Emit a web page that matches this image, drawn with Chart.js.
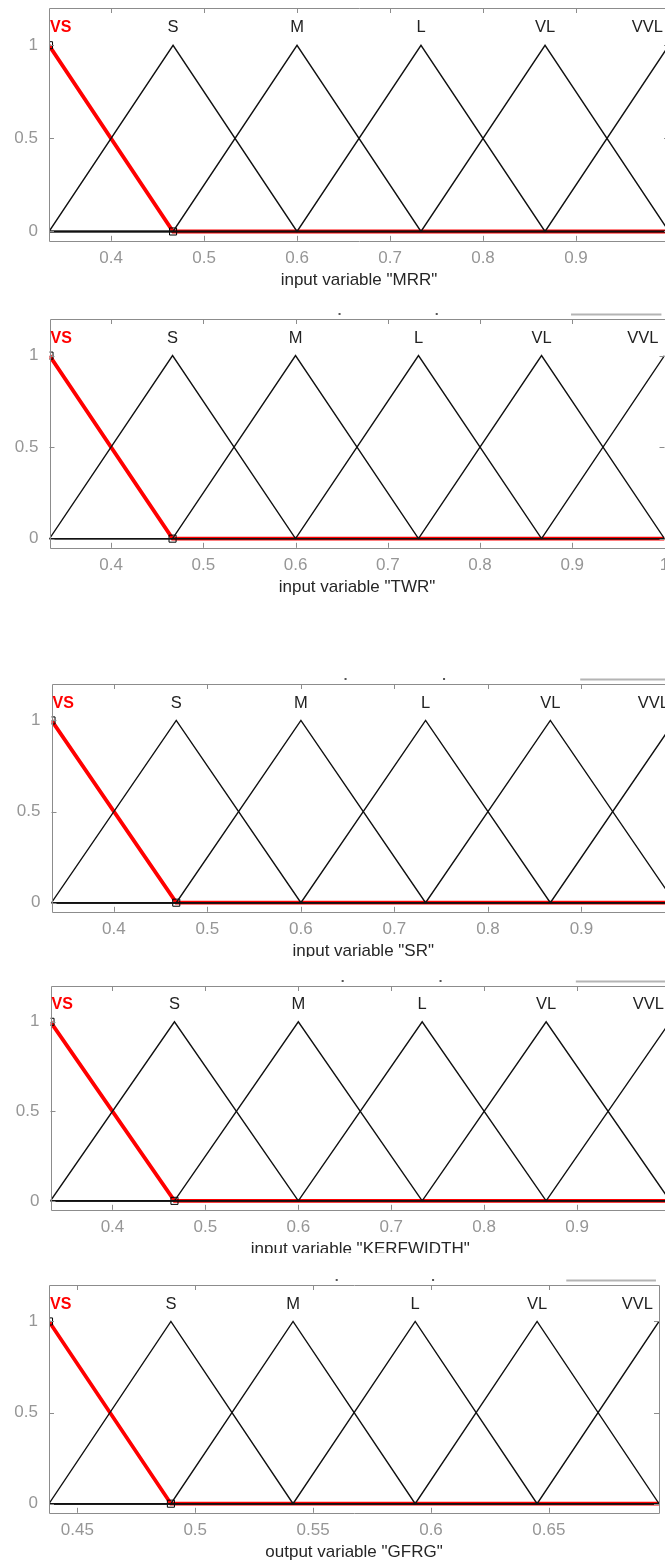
<!DOCTYPE html>
<html>
<head>
<meta charset="utf-8">
<script src="https://cdn.jsdelivr.net/npm/chart.js@4.4.0/dist/chart.umd.min.js"></script>
<style>
  html, body { margin: 0; padding: 0; background: #fff; overflow: hidden; }
  body { width: 665px; height: 1560px; position: relative; }
  .panel { position: absolute; left: 0; width: 665px; overflow: hidden; }
  .panel canvas { position: absolute; left: 0; top: 0; }
</style>
</head>
<body>
<script>
// membership function names, same for every variable
var mfNames = ['VS', 'S', 'M', 'L', 'VL', 'VVL'];

// trimf parameters [a, b, c]
var mrrMF = [[0.2, 0.3333, 0.4667], [0.3333, 0.4667, 0.6], [0.4667, 0.6, 0.7333],
             [0.6, 0.7333, 0.8667], [0.7333, 0.8667, 1.0], [0.8667, 1.0, 1.1333]];
var twrMF = [[0.2, 0.3333, 0.4667], [0.3333, 0.4667, 0.6], [0.4667, 0.6, 0.7333],
             [0.6, 0.7333, 0.8667], [0.7333, 0.8667, 1.0], [0.8667, 1.0, 1.1333]];
var srMF = [[0.2, 0.3333, 0.4667], [0.3333, 0.4667, 0.6], [0.4667, 0.6, 0.7333],
            [0.6, 0.7333, 0.8667], [0.7333, 0.8667, 1.0], [0.8667, 1.0, 1.1333]];
var kerfMF = [[0.2, 0.3333, 0.4667], [0.3333, 0.4667, 0.6], [0.4667, 0.6, 0.7333],
              [0.6, 0.7333, 0.8667], [0.7333, 0.8667, 1.0], [0.8667, 1.0, 1.1333]];
var gfrgMF = [[0.3862, 0.438, 0.4897], [0.438, 0.4897, 0.5415], [0.4897, 0.5415, 0.5933],
              [0.5415, 0.5933, 0.645], [0.5933, 0.645, 0.6967], [0.645, 0.6967, 0.7485]];

// variable ranges
var unitRange = [0.3333, 1.0];
var gfrgRange = [0.438, 0.6967];

// tick labels
var unitTicks = [0.4, 0.5, 0.6, 0.7, 0.8, 0.9, 1];
var gfrgTicks = [0.45, 0.5, 0.55, 0.6, 0.65];
var yTicks = [0, 0.5, 1];

// where each axes box sits on the page
var panels = [
  { title: 'input variable "MRR"', mf: mrrMF, range: unitRange, ticks: unitTicks, top: 8, bottom: 240, left: 49, right: 669, cut: null, scrap: false },
  { title: 'input variable "TWR"', mf: twrMF, range: unitRange, ticks: unitTicks, top: 319, bottom: 547.5, left: 49.5, right: 664.5, cut: null, scrap: true },
  { title: 'input variable "SR"', mf: srMF, range: unitRange, ticks: unitTicks, top: 684, bottom: 911.5, left: 51.5, right: 675, cut: 957, scrap: true },
  { title: 'input variable "KERFWIDTH"', mf: kerfMF, range: unitRange, ticks: unitTicks, top: 986, bottom: 1209, left: 50.5, right: 670, cut: 1253, scrap: true },
  { title: 'output variable "GFRG"', mf: gfrgMF, range: gfrgRange, ticks: gfrgTicks, top: 1284.5, bottom: 1512, left: 49, right: 659, cut: 1560, scrap: true }
];

Chart.defaults.font.family = '"Liberation Sans", Arial, sans-serif';

function trimf(x, p) {
  var l = (x - p[0]) / (p[1] - p[0]);
  var r = (p[2] - x) / (p[2] - p[1]);
  return Math.max(Math.min(l, r), 0);
}

// breakpoints of one MF inside the variable range
function mfPoints(p, range) {
  var xs = [range[0], p[0], p[1], p[2], range[1]].filter(function (x) {
    return x >= range[0] - 1e-9 && x <= range[1] + 1e-9;
  });
  xs.sort(function (a, b) { return a - b; });
  var out = [];
  xs.forEach(function (x) {
    if (!out.length || Math.abs(out[out.length - 1].x - x) > 1e-9) {
      out.push({ x: x, y: Math.round(trimf(x, p) * 1e6) / 1e6 });
    }
  });
  return out;
}

// axes box and inward ticks
var boxPlugin = {
  id: 'box',
  afterDatasetsDraw: function (chart) {
    var ctx = chart.ctx, a = chart.chartArea;
    var xs = chart.scales.x, ys = chart.scales.y;
    ctx.save();
    ctx.strokeStyle = '#8c8c8c';
    ctx.lineWidth = 1;
    ctx.beginPath();
    ctx.rect(Math.round(a.left) + 0.5, Math.round(a.top) + 0.5,
             Math.round(a.right) - Math.round(a.left), Math.round(a.bottom) - Math.round(a.top));
    xs.ticks.forEach(function (t) {
      var px = Math.round(xs.getPixelForValue(t.value)) + 0.5;
      ctx.moveTo(px, a.bottom); ctx.lineTo(px, a.bottom - 5);
      ctx.moveTo(px, a.top); ctx.lineTo(px, a.top + 5);
    });
    ys.ticks.forEach(function (t) {
      var py = Math.round(ys.getPixelForValue(t.value)) + 0.5;
      ctx.moveTo(a.left, py); ctx.lineTo(a.left + 5, py);
      ctx.moveTo(a.right, py); ctx.lineTo(a.right - 5, py);
    });
    ctx.stroke();

    // leftover of the cropped figure above the box
    if (chart.options.plugins.box.scrap) {
      var w = a.right - a.left;
      ctx.strokeStyle = '#b4b4b4';
      ctx.lineWidth = 2;
      ctx.beginPath();
      ctx.moveTo(a.left + w * 0.848, a.top - 4.5);
      ctx.lineTo(a.left + w * 0.995, a.top - 4.5);
      ctx.stroke();
      ctx.fillStyle = '#555';
      ctx.fillRect(a.left + w * 0.47, a.top - 6, 2, 2);
      ctx.fillRect(a.left + w * 0.628, a.top - 6, 2, 2);
    }
    ctx.restore();
  }
};

// MF names above the peaks
var namePlugin = {
  id: 'names',
  afterDatasetsDraw: function (chart) {
    var ctx = chart.ctx;
    var xs = chart.scales.x, ys = chart.scales.y;
    var mf = chart.options.plugins.names.mf;
    var py = ys.getPixelForValue(1.1) + 1;
    ctx.save();
    ctx.textBaseline = 'middle';
    mf.forEach(function (p, i) {
      var px = xs.getPixelForValue(p[1]);
      if (i === 0) {
        ctx.font = 'bold 16px "Liberation Sans", Arial, sans-serif';
        ctx.fillStyle = '#ff0000';
        ctx.textAlign = 'left';
        px = chart.chartArea.left + 1;
      } else if (i === mf.length - 1) {
        ctx.font = '16.5px "Liberation Sans", Arial, sans-serif';
        ctx.fillStyle = '#222';
        ctx.textAlign = 'right';
        px = Math.min(px, chart.chartArea.right) - 6;
      } else {
        ctx.font = '16.5px "Liberation Sans", Arial, sans-serif';
        ctx.fillStyle = '#222';
        ctx.textAlign = 'center';
      }
      ctx.fillText(mfNames[i], px, py);
    });
    ctx.restore();
  }
};

var padTop = 8;
var xAxisH = 50.2;

panels.forEach(function (p) {
  var divTop = p.top - padTop;
  var canvasH = Math.ceil(padTop + (p.bottom - p.top) + xAxisH);
  var canvasW = Math.ceil(p.right) + 14;
  var div = document.createElement('div');
  div.className = 'panel';
  div.style.top = divTop + 'px';
  div.style.height = (p.cut ? p.cut - divTop : canvasH) + 'px';
  var canvas = document.createElement('canvas');
  canvas.width = canvasW;
  canvas.height = canvasH;
  canvas.style.width = canvasW + 'px';
  canvas.style.height = canvasH + 'px';
  div.appendChild(canvas);
  document.body.appendChild(div);

  var datasets = [];
  p.mf.forEach(function (m, i) {
    if (i === 0) return;
    datasets.push({
      data: mfPoints(m, p.range),
      borderColor: '#111',
      borderWidth: 1.4,
      pointRadius: 0,
      tension: 0,
      fill: false
    });
  });
  // the selected MF, drawn underneath in red
  var sel = mfPoints(p.mf[0], p.range);
  datasets.push({
    data: sel,
    borderColor: '#ff0000',
    borderWidth: 3.8,
    pointStyle: 'rect',
    pointRadius: sel.map(function (pt) { return pt.x < p.range[1] - 1e-9 ? 5 : 0; }),
    pointBorderColor: '#000',
    pointBackgroundColor: 'rgba(0,0,0,0)',
    pointBorderWidth: 1,
    tension: 0,
    fill: false
  });

  new Chart(canvas.getContext('2d'), {
    type: 'line',
    data: { datasets: datasets },
    options: {
      responsive: false,
      animation: false,
      layout: { padding: { top: padTop, right: canvasW - p.right, bottom: 0, left: 0 } },
      plugins: {
        legend: { display: false },
        tooltip: { enabled: false },
        box: { scrap: p.scrap },
        names: { mf: p.mf }
      },
      scales: {
        x: {
          type: 'linear',
          min: p.range[0],
          max: p.range[1],
          grid: { display: false, drawTicks: false },
          border: { display: false },
          ticks: {
            color: '#969696',
            font: { size: 17 },
            padding: 7.8,
            maxRotation: 0,
            autoSkip: false,
            callback: function (v) { return String(v); }
          },
          title: {
            display: true,
            text: p.title,
            color: '#262626',
            font: { size: 17 },
            padding: 0
          },
          afterBuildTicks: function (s) {
            s.ticks = p.ticks.map(function (v) { return { value: v }; });
          },
          afterFit: function (s) {
            s.height = xAxisH;
            s.paddingLeft = 0;
            s.paddingRight = 0;
          }
        },
        y: {
          type: 'linear',
          min: -0.05,
          max: 1.2,
          grid: { display: false, drawTicks: false },
          border: { display: false },
          ticks: {
            color: '#969696',
            font: { size: 17 },
            padding: 11,
            callback: function (v) { return String(v); }
          },
          afterBuildTicks: function (s) {
            s.ticks = yTicks.map(function (v) { return { value: v }; });
          },
          afterFit: function (s) {
            s.width = p.left;
            s.paddingTop = 0;
            s.paddingBottom = 0;
          }
        }
      }
    },
    plugins: [boxPlugin, namePlugin]
  });
});
</script>
</body>
</html>
